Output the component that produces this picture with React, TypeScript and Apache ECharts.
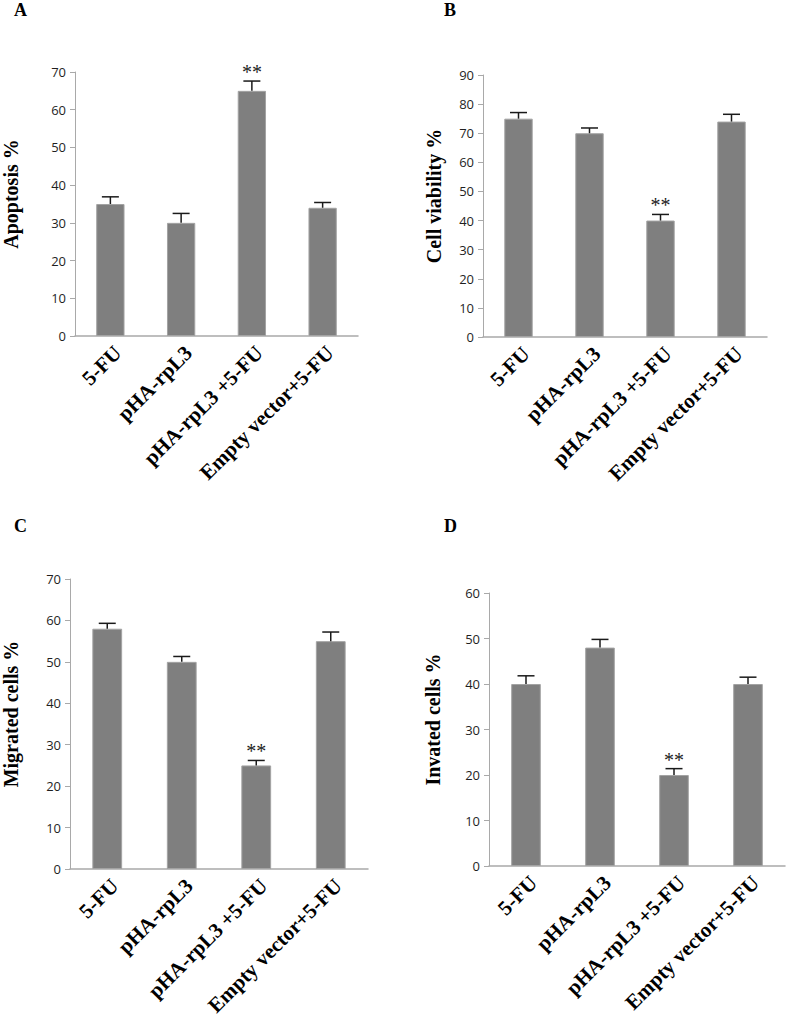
import React, { useEffect, useRef } from "react";
import * as echarts from "echarts";

const categories = ["5-FU", "pHA-rpL3", "pHA-rpL3 +5-FU", "Empty vector+5-FU"];

const apoptosisValues = [35, 30, 65, 34];
const apoptosisErrors = [1.9, 2.5, 2.6, 1.4];
const viabilityValues = [75, 70, 40, 74];
const viabilityErrors = [2.1, 1.8, 2.1, 2.5];
const migratedValues = [58, 50, 25, 55];
const migratedErrors = [1.3, 1.3, 1.2, 2.2];
const invadedValues = [40, 48, 20, 40];
const invadedErrors = [1.8, 1.8, 1.4, 1.5];

const significance = ["", "", "**", ""];

const panelLetters = ["A", "B", "C", "D"];
const axisTitles = ["Apoptosis %", "Cell viability %", "Migrated cells %", "Invated cells %"];
const axisMax = [70, 90, 70, 60];

const panels = [
  { values: apoptosisValues, errors: apoptosisErrors },
  { values: viabilityValues, errors: viabilityErrors },
  { values: migratedValues, errors: migratedErrors },
  { values: invadedValues, errors: invadedErrors },
];

// layout (pixels)
const grids = [
  { left: 72, top: 72, width: 286, height: 264 },
  { left: 483, top: 75, width: 284, height: 262 },
  { left: 68, top: 579, width: 300, height: 290 },
  { left: 489, top: 593, width: 296, height: 273 },
];
const nameGaps = [54, 39, 49, 46];
const letterPos = [
  { left: 14, top: 1 },
  { left: 444, top: 1 },
  { left: 14, top: 517 },
  { left: 444, top: 517 },
];

export default function App() {
  const ref = useRef<HTMLDivElement>(null);

  useEffect(() => {
    if (!ref.current) return;
    const chart = echarts.init(ref.current, undefined, { renderer: "svg" });

    const serif = "Liberation Serif";
    const axisColor = "#a9a9a9";

    const option: any = {
      animation: false,
      backgroundColor: "#ffffff",
      title: panelLetters.map((t, i) => ({
        text: t,
        left: letterPos[i].left,
        top: letterPos[i].top,
        padding: 0,
        textStyle: { fontFamily: serif, fontWeight: "bold", fontSize: 18, color: "#000" },
      })),
      grid: grids.map((g) => ({ ...g, containLabel: false })),
      xAxis: grids.map((_, i) => ({
        type: "category",
        gridIndex: i,
        data: categories,
        boundaryGap: true,
        axisLine: { show: true, lineStyle: { color: axisColor, width: 1.5 } },
        axisTick: { show: false },
        axisLabel: {
          interval: 0,
          rotate: 45,
          margin: 6,
          align: "right",
          verticalAlign: "top",
          fontFamily: serif,
          fontWeight: "bold",
          fontSize: 21,
          color: "#000",
        },
        splitLine: { show: false },
      })),
      yAxis: grids.map((_, i) => ({
        type: "value",
        gridIndex: i,
        min: 0,
        max: axisMax[i],
        interval: 10,
        name: axisTitles[i],
        nameLocation: "middle",
        nameRotate: 90,
        nameGap: nameGaps[i],
        nameTextStyle: {
          fontFamily: serif,
          fontWeight: "bold",
          fontSize: 20,
          color: "#000",
          padding: [0, 0, 0, 20],
        },
        axisLine: { show: true, lineStyle: { color: axisColor, width: 1 } },
        axisTick: { show: true, length: 5, lineStyle: { color: axisColor } },
        axisLabel: {
          margin: 9,
          fontFamily: "Open Sans",
          fontSize: 13,
          color: "#1f1f1f",
        },
        splitLine: { show: false },
      })),
      series: [
        ...panels.map((p, i) => ({
          type: "bar",
          xAxisIndex: i,
          yAxisIndex: i,
          data: p.values,
          barWidth: "40%",
          itemStyle: { color: "#7f7f7f", borderColor: "#a3a3a3", borderWidth: 1 },
        })),
        ...panels.map((p, i) => ({
          type: "custom",
          xAxisIndex: i,
          yAxisIndex: i,
          data: p.values.map((v, j) => [j, v, p.errors[j]]),
          encode: { x: 0, y: 1 },
          z: 5,
          renderItem: (params: any, api: any) => {
            const idx = api.value(0);
            const v = api.value(1);
            const e = api.value(2);
            const base = api.coord([idx, v]);
            const top = api.coord([idx, v + e]);
            const half = 8.5;
            const children: any[] = [
              {
                type: "line",
                shape: { x1: base[0], y1: base[1], x2: base[0], y2: top[1] },
                style: { stroke: "#1a1a1a", lineWidth: 1.5 },
              },
              {
                type: "line",
                shape: { x1: base[0] - half, y1: top[1], x2: base[0] + half, y2: top[1] },
                style: { stroke: "#1a1a1a", lineWidth: 1.5 },
              },
            ];
            const s = significance[params.dataIndex];
            if (s) {
              children.push({
                type: "text",
                style: {
                  text: s,
                  x: base[0],
                  y: top[1] - 9,
                  align: "center",
                  verticalAlign: "middle",
                  font: "20px 'Liberation Serif'",
                  fill: "#222",
                },
              });
            }
            return { type: "group", children };
          },
        })),
      ],
    };

    chart.setOption(option);
    return () => chart.dispose();
  }, []);

  return (
    <div
      ref={ref}
      style={{ position: "absolute", left: 0, top: 0, width: 787, height: 1027 }}
    />
  );
}
